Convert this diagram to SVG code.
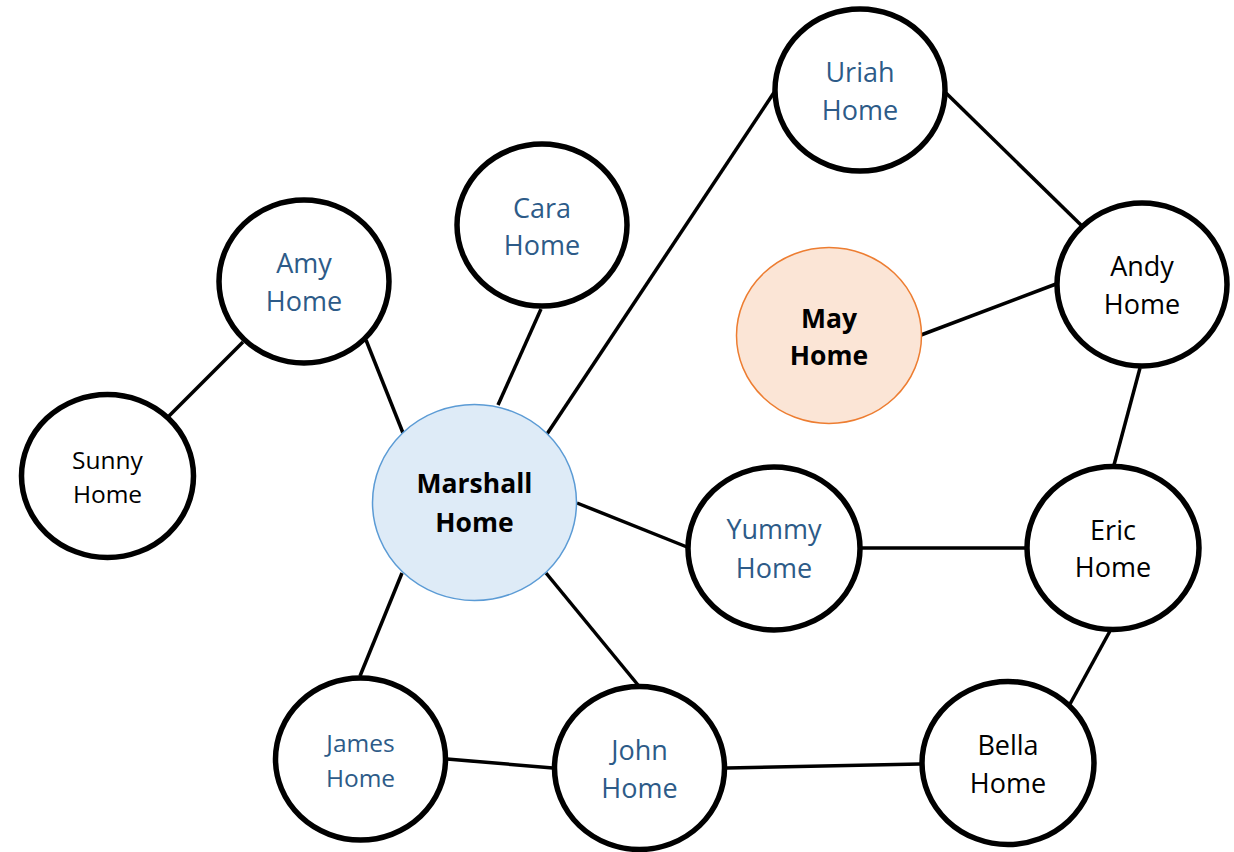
<svg xmlns="http://www.w3.org/2000/svg" width="1234" height="852" viewBox="0 0 1234 852">
<style>
.bg{fill:#ffffff}
.edge{stroke:#000;stroke-width:3.5;fill:none;stroke-linecap:butt}
.n{fill:#ffffff;stroke:#000;stroke-width:5.5}
.t{font-family:"Open Sans","Liberation Sans",sans-serif;font-size:27px;text-anchor:middle}
.s{font-size:24.5px}
.blue{fill:#2d5b88}
.blk{fill:#000}
.b{font-weight:bold;fill:#000;font-size:26.5px}
</style>
<rect class="bg" x="0" y="0" width="1234" height="852"/>
<g id="connectors">
<line class="edge" x1="243" y1="342" x2="169" y2="416"/>
<line class="edge" x1="366" y1="340" x2="403" y2="433"/>
<line class="edge" x1="541" y1="309" x2="498" y2="405"/>
<line class="edge" x1="775" y1="91" x2="547" y2="434"/>
<line class="edge" x1="946" y1="93" x2="1081" y2="225"/>
<line class="edge" x1="921" y1="335" x2="1056" y2="284"/>
<line class="edge" x1="1140" y1="368" x2="1114" y2="465"/>
<line class="edge" x1="577" y1="503" x2="687" y2="547"/>
<line class="edge" x1="862" y1="548" x2="1025" y2="548"/>
<line class="edge" x1="1110" y1="631" x2="1070" y2="704"/>
<line class="edge" x1="402" y1="573" x2="360" y2="676"/>
<line class="edge" x1="546" y1="573" x2="638" y2="685"/>
<line class="edge" x1="447" y1="759" x2="553" y2="768"/>
<line class="edge" x1="727" y1="768" x2="920" y2="764"/>
</g>
<g id="uriah"><ellipse class="n" cx="860" cy="90" rx="85" ry="81"/><text class="t blue" x="860" y="82">Uriah</text><text class="t blue" x="860" y="120">Home</text></g>
<g id="cara"><ellipse class="n" cx="542" cy="225" rx="85" ry="81"/><text class="t blue" x="542" y="218">Cara</text><text class="t blue" x="542" y="255">Home</text></g>
<g id="amy"><ellipse class="n" cx="304" cy="281.5" rx="85" ry="81.5"/><text class="t blue" x="304" y="273">Amy</text><text class="t blue" x="304" y="311">Home</text></g>
<g id="andy"><ellipse class="n" cx="1142" cy="284.5" rx="85" ry="81.5"/><text class="t blk" x="1142" y="276">Andy</text><text class="t blk" x="1142" y="314">Home</text></g>
<g id="may"><ellipse cx="829" cy="335.5" rx="92.5" ry="88" fill="#fbe5d6" stroke="#ed7d31" stroke-width="1.5"/><text class="t b" x="829" y="328">May</text><text class="t b" x="829" y="365">Home</text></g>
<g id="sunny"><ellipse class="n" cx="107.5" cy="476" rx="86" ry="81.5"/><text class="t s blk" x="107.5" y="469">Sunny</text><text class="t s blk" x="107.5" y="503">Home</text></g>
<g id="marshall"><ellipse cx="474.5" cy="502.5" rx="102" ry="98" fill="#deebf7" stroke="#5b9bd5" stroke-width="1.5"/><text class="t b" x="474.5" y="493">Marshall</text><text class="t b" x="474.5" y="532">Home</text></g>
<g id="yummy"><ellipse class="n" cx="774" cy="548.5" rx="86" ry="81.5"/><text class="t blue" x="774" y="539">Yummy</text><text class="t blue" x="774" y="578">Home</text></g>
<g id="eric"><ellipse class="n" cx="1113" cy="548" rx="86" ry="81.5"/><text class="t blk" x="1113" y="540">Eric</text><text class="t blk" x="1113" y="577">Home</text></g>
<g id="james"><ellipse class="n" cx="360.5" cy="759" rx="85" ry="81"/><text class="t s blue" x="360.5" y="752">James</text><text class="t s blue" x="360.5" y="787">Home</text></g>
<g id="john"><ellipse class="n" cx="639.5" cy="768" rx="85" ry="81.5"/><text class="t blue" x="639.5" y="760">John</text><text class="t blue" x="639.5" y="798">Home</text></g>
<g id="bella"><ellipse class="n" cx="1008" cy="763" rx="86" ry="81.5"/><text class="t blk" x="1008" y="755">Bella</text><text class="t blk" x="1008" y="793">Home</text></g>
</svg>
